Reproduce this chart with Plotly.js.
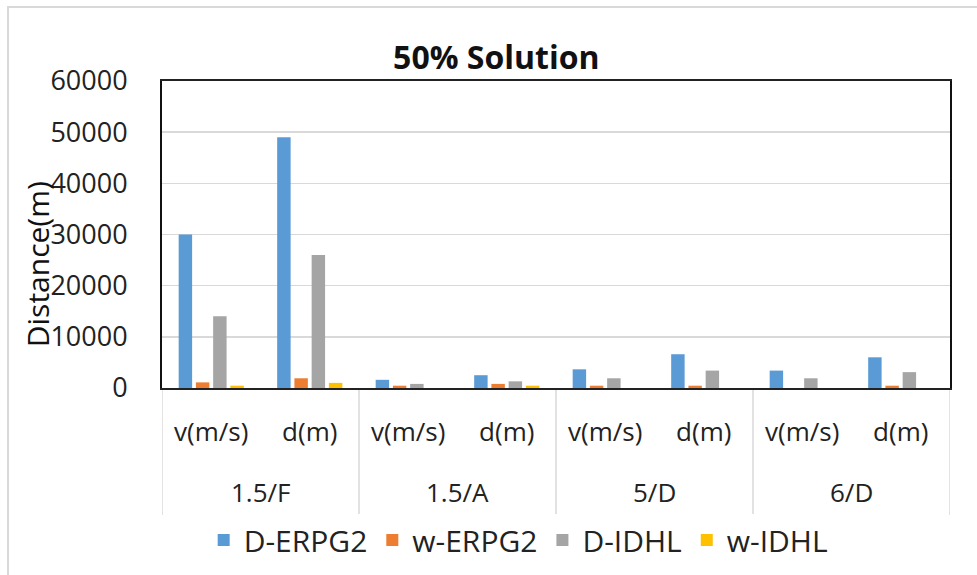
<!DOCTYPE html>
<html>
<head>
<meta charset="utf-8">
<script src="https://cdn.plot.ly/plotly-3.0.1.min.js"></script>
<style>html,body{margin:0;padding:0;background:#fff;}#chart{width:977px;height:575px;}</style>
</head>
<body>
<div id="chart"></div>
<script>
const groups = ["1.5/F", "1.5/F", "1.5/A", "1.5/A", "5/D", "5/D", "6/D", "6/D"];
const subcats = ["v(m/s)", "d(m)", "v(m/s)", "d(m)", "v(m/s)", "d(m)", "v(m/s)", "d(m)"];
const groupNames = ["1.5/F", "1.5/A", "5/D", "6/D"];
const seriesNames = ["D-ERPG2", "w-ERPG2", "D-IDHL", "w-IDHL"];
const dERPG2 = [30000, 49000, 1600, 2500, 3650, 6600, 3400, 6000];
const wERPG2 = [1100, 1900, 450, 800, 450, 450, 0, 450];
const dIDHL = [14000, 26000, 800, 1300, 1900, 3400, 1900, 3100];
const wIDHL = [450, 1000, 0, 450, 0, 0, 0, 0];
const colors = ["#5B9BD5", "#ED7D31", "#A5A5A5", "#FFC000"];
const yTicks = [0, 10000, 20000, 30000, 40000, 50000, 60000];

const FONT = "'Open Sans', 'Noto Sans', sans-serif";
const keys = groups.map((g, i) => g + "|" + subcats[i]);
const allSeries = [dERPG2, wERPG2, dIDHL, wIDHL];
const traces = allSeries.map((vals, i) => ({
  type: "bar",
  name: seriesNames[i],
  x: keys,
  y: vals,
  marker: {color: colors[i]}
}));

const annotations = groupNames.map((g, gi) => ({
  text: g, xref: "x", yref: "paper", x: gi * 2 + 0.5, y: -0.339,
  xanchor: "center", yanchor: "middle", showarrow: false,
  font: {family: FONT, size: 26, color: "#222"}
}));
annotations.push({
  text: "Distance(m)", xref: "paper", yref: "paper", x: -0.157, y: 0.404,
  xanchor: "center", yanchor: "middle", textangle: -90, showarrow: false,
  font: {family: FONT, size: 30, color: "#111"}
});

const shapes = [{
  type: "rect", xref: "paper", yref: "paper",
  x0: -0.1954, x1: 1.2, y0: -2, y1: 1.241,
  line: {color: "#d9d9d9", width: 2}, layer: "below"
}];
for (let gi = 0; gi <= groupNames.length; gi++) {
  shapes.push({
    type: "line", xref: "x", yref: "paper",
    x0: gi * 2 - 0.5, x1: gi * 2 - 0.5, y0: 0, y1: -0.414,
    line: {color: "#d9d9d9", width: 1.5}, layer: "below"
  });
}

const layout = {
  width: 977, height: 575,
  margin: {l: 162, r: 27, t: 81, b: 187, autoexpand: false},
  paper_bgcolor: "#fff", plot_bgcolor: "#fff",
  font: {family: FONT, color: "#222", size: 22},
  title: {text: "<b>50% Solution</b>", x: 0.508, xanchor: "center", y: 0.9, yanchor: "middle",
          font: {family: FONT, size: 32, color: "#111"}},
  barmode: "group", bargap: 0.3, bargroupgap: 0.22,
  showlegend: true,
  xaxis: {
    type: "category", automargin: false,
    tickvals: keys, ticktext: subcats,
    range: [-0.5, keys.length - 0.5],
    showline: true, linecolor: "#222", linewidth: 2, mirror: true,
    showgrid: false, ticks: "", ticklabelstandoff: 20,
    tickfont: {family: FONT, size: 26, color: "#222"}
  },
  yaxis: {
    range: [0, 60000], tickvals: yTicks, ticktext: yTicks.map(String),
    automargin: false,
    showline: true, linecolor: "#111", linewidth: 2, mirror: true,
    showgrid: true, gridcolor: "#d9d9d9", gridwidth: 1.5, zeroline: false,
    ticks: "", ticklabelstandoff: 27,
    tickfont: {family: FONT, size: 27, color: "#222"}
  },
  legend: {orientation: "h", x: 0.452, xanchor: "center", y: -0.495, yanchor: "middle",
           font: {family: FONT, size: 30, color: "#222"}, traceorder: "normal", itemwidth: 30},
  annotations: annotations,
  shapes: shapes
};

Plotly.newPlot("chart", traces, layout, {displayModeBar: false, staticPlot: true});
</script>
</body>
</html>
